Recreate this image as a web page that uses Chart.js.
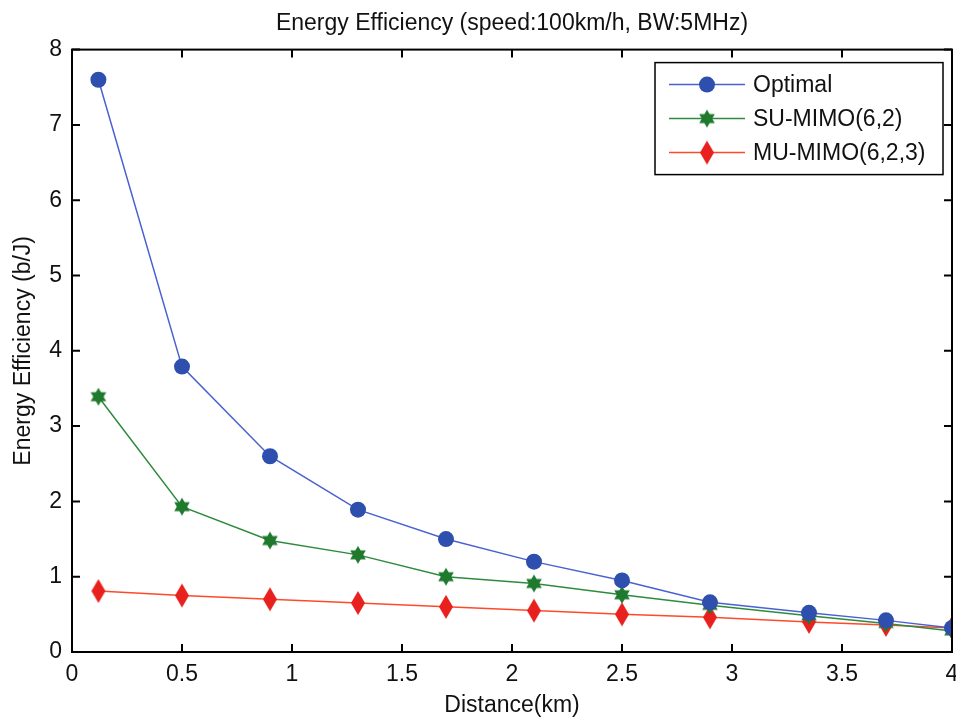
<!DOCTYPE html>
<html>
<head>
<meta charset="utf-8">
<script src="https://cdn.jsdelivr.net/npm/chart.js@4.4.0/dist/chart.umd.min.js"></script>
<style>
  html, body { margin: 0; background: #fff; overflow: hidden; }
  canvas { display: block; }
</style>
</head>
<body>
<canvas id="myChart" width="960" height="719"></canvas>
<script>
// Data
const distances = [0.12, 0.5, 0.9, 1.3, 1.7, 2.1, 2.5, 2.9, 3.35, 3.7, 4.0];
const optimal = [7.6, 3.79, 2.6, 1.89, 1.5, 1.2, 0.95, 0.66, 0.52, 0.42, 0.32];
const suMimo = [3.39, 1.93, 1.48, 1.29, 1.0, 0.91, 0.76, 0.62, 0.48, 0.38, 0.28];
const muMimo = [0.81, 0.75, 0.7, 0.65, 0.6, 0.55, 0.5, 0.46, 0.4, 0.36, 0.32];
const seriesNames = ['Optimal', 'SU-MIMO(6,2)', 'MU-MIMO(6,2,3)'];
const xTicks = [0, 0.5, 1, 1.5, 2, 2.5, 3, 3.5, 4];
const yTicks = [0, 1, 2, 3, 4, 5, 6, 7, 8];

const FONT = '"Liberation Sans", Arial, sans-serif';

// marker images
function makeStar(color) {
    const c = document.createElement('canvas');
    c.width = 20; c.height = 20;
    const g = c.getContext('2d');
    g.fillStyle = color;
    const r = 9;
    [ -Math.PI / 2, Math.PI / 2 ].forEach(a0 => {
        g.beginPath();
        for (let i = 0; i < 3; i++) {
            const a = a0 + i * 2 * Math.PI / 3;
            const px = 10 + r * Math.cos(a), py = 10 + r * Math.sin(a);
            i === 0 ? g.moveTo(px, py) : g.lineTo(px, py);
        }
        g.closePath();
        g.fill();
    });
    return c;
}
function makeDiamond(color) {
    const c = document.createElement('canvas');
    c.width = 16; c.height = 26;
    const g = c.getContext('2d');
    g.fillStyle = color;
    g.beginPath();
    g.moveTo(8, 1); g.lineTo(15, 13); g.lineTo(8, 25); g.lineTo(1, 13);
    g.closePath();
    g.fill();
    return c;
}
const starImg = makeStar('#1f7a2e');
const diamondImg = makeDiamond('#e8201e');

function pts(ys) {
    return distances.map((x, i) => ({ x: x, y: ys[i] }));
}

// box, inward ticks and legend
const framePlugin = {
    id: 'frame',
    afterDraw(chart) {
        const g = chart.ctx;
        const a = chart.chartArea;
        const xs = chart.scales.x, ys = chart.scales.y;
        g.save();
        g.strokeStyle = '#000';
        g.lineWidth = 2;
        g.strokeRect(a.left, a.top, a.right - a.left, a.bottom - a.top);
        const t = 8;
        g.beginPath();
        xTicks.forEach(v => {
            const px = xs.getPixelForValue(v);
            g.moveTo(px, a.bottom); g.lineTo(px, a.bottom - t);
            g.moveTo(px, a.top); g.lineTo(px, a.top + t);
        });
        yTicks.forEach(v => {
            const py = ys.getPixelForValue(v);
            g.moveTo(a.left, py); g.lineTo(a.left + t, py);
            g.moveTo(a.right, py); g.lineTo(a.right - t, py);
        });
        g.stroke();

        // legend
        const lx = a.right - 297, ly = a.top + 13, lw = 288, lh = 112;
        g.fillStyle = '#fff';
        g.fillRect(lx, ly, lw, lh);
        g.lineWidth = 1.5;
        g.strokeRect(lx, ly, lw, lh);
        g.font = '23px ' + FONT;
        g.textBaseline = 'middle';
        chart.data.datasets.forEach((ds, i) => {
            const ry = ly + 22 + i * 34;
            g.strokeStyle = ds.borderColor;
            g.lineWidth = 1.5;
            g.beginPath();
            g.moveTo(lx + 14, ry); g.lineTo(lx + 90, ry);
            g.stroke();
            const mx = lx + 52;
            if (ds.pointStyle === 'circle') {
                g.fillStyle = ds.pointBackgroundColor;
                g.beginPath();
                g.arc(mx, ry, 8, 0, Math.PI * 2);
                g.fill();
            } else {
                const img = ds.pointStyle;
                g.drawImage(img, mx - img.width / 2, ry - img.height / 2);
            }
            g.fillStyle = '#111';
            g.fillText(ds.label, lx + 98, ry + 1);
        });
        g.restore();
    }
};

const ctx = document.getElementById('myChart').getContext('2d');
const myChart = new Chart(ctx, {
    type: 'scatter',
    data: {
        datasets: [{
            label: seriesNames[0],
            data: pts(optimal),
            showLine: true,
            borderColor: '#4a62d0',
            borderWidth: 1.5,
            pointStyle: 'circle',
            pointRadius: 8,
            pointBackgroundColor: '#2e4fae',
            pointBorderWidth: 0
        }, {
            label: seriesNames[1],
            data: pts(suMimo),
            showLine: true,
            borderColor: '#2e8b3e',
            borderWidth: 1.5,
            pointStyle: starImg,
            pointBackgroundColor: '#1f7a2e'
        }, {
            label: seriesNames[2],
            data: pts(muMimo),
            showLine: true,
            borderColor: '#ff4a2a',
            borderWidth: 1.5,
            pointStyle: diamondImg,
            pointBackgroundColor: '#e8201e'
        }]
    },
    options: {
        responsive: false,
        animation: false,
        layout: { padding: { left: 0, right: 1, top: 0, bottom: 0 } },
        plugins: {
            legend: { display: false },
            tooltip: { enabled: false },
            title: {
                display: true,
                fullSize: false,
                text: 'Energy Efficiency (speed:100km/h, BW:5MHz)',
                color: '#111',
                font: { family: FONT, size: 23, weight: 'normal' },
                padding: { top: 10, bottom: 12 }
            }
        },
        scales: {
            x: {
                type: 'linear',
                min: 0, max: 4,
                afterBuildTicks: s => { s.ticks = xTicks.map(v => ({ value: v })); },
                afterFit: s => { s.height = 67; s.paddingRight = 0; s.paddingLeft = 0; },
                grid: { display: false, drawTicks: false },
                border: { display: false },
                ticks: {
                    color: '#111', font: { family: FONT, size: 23 }, padding: 9, maxRotation: 0,
                    callback: v => String(v)
                },
                title: {
                    display: true, text: 'Distance(km)', color: '#111',
                    font: { family: FONT, size: 23 }, padding: { top: 3, bottom: 0 }
                }
            },
            y: {
                type: 'linear',
                min: 0, max: 8,
                afterBuildTicks: s => { s.ticks = yTicks.map(v => ({ value: v })); },
                afterFit: s => { s.width = 72; },
                grid: { display: false, drawTicks: false },
                border: { display: false },
                ticks: {
                    color: '#111', font: { family: FONT, size: 23 }, padding: 10,
                    callback: v => String(v)
                },
                title: {
                    display: true, text: 'Energy Efficiency (b/J)', color: '#111',
                    font: { family: FONT, size: 23 }, padding: { top: 10, bottom: 0 }
                }
            }
        }
    },
    plugins: [framePlugin]
});
</script>
</body>
</html>
